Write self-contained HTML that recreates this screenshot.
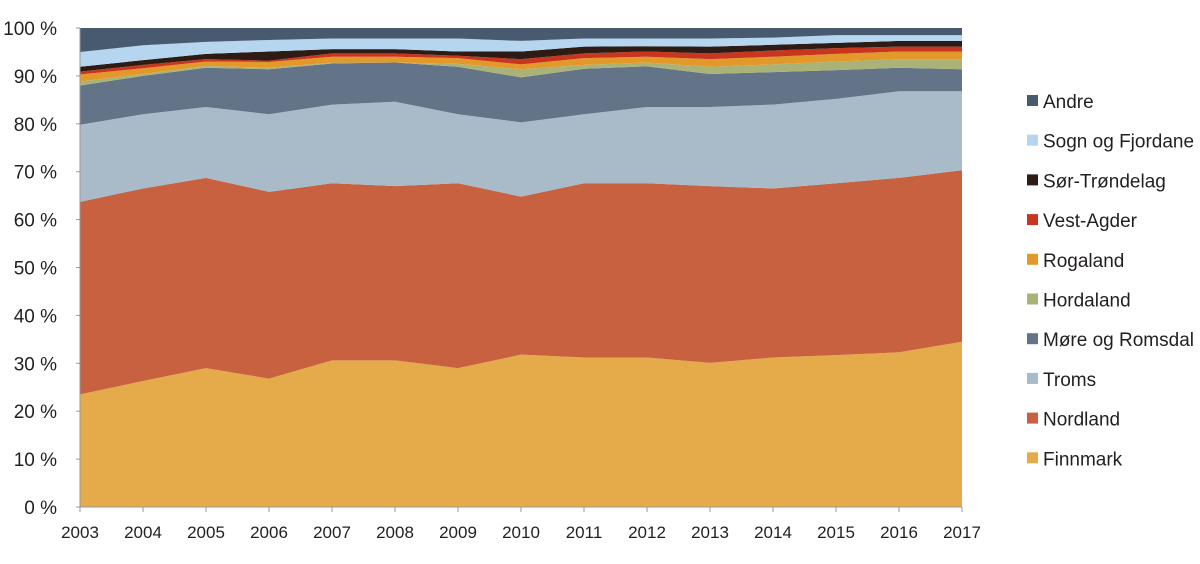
<!DOCTYPE html>
<html><head><meta charset="utf-8"><style>
body{margin:0;background:#fff;}
svg text{font-family:"Liberation Sans",sans-serif;font-size:17px;fill:#231f20;}
svg text.big{font-size:19px;}
</style></head><body>
<svg id="chart" width="1200" height="559"></svg>
<script>
const years=[2003,2004,2005,2006,2007,2008,2009,2010,2011,2012,2013,2014,2015,2016,2017];
const seriesNames=["Finnmark","Nordland","Troms","Møre og Romsdal","Hordaland","Rogaland","Vest-Agder","Sør-Trøndelag","Sogn og Fjordane","Andre"];
const finnmark=[23.5,26.3,29,26.8,30.6,30.6,29,31.8,31.2,31.2,30.1,31.2,31.7,32.3,34.5];
const nordland=[40.2,40.2,39.7,39.0,37.0,36.4,38.6,33.0,36.4,36.4,36.9,35.3,35.9,36.4,35.8];
const troms=[16.1,15.5,14.8,16.2,16.4,17.6,14.4,15.5,14.4,15.9,16.5,17.5,17.6,18.1,16.5];
const more=[8.2,8.0,8.2,9.4,8.6,8.2,9.9,9.4,9.5,8.5,6.9,6.8,6.0,4.9,4.6];
const hordaland=[0.8,0.4,0.4,0.3,0.2,0.0,0.6,1.7,0.8,0.8,1.5,1.6,1.8,1.8,2.1];
const rogaland=[1.5,1.2,0.9,1.2,1.2,1.2,1.2,1.0,1.4,1.2,1.6,1.6,1.6,1.6,1.6];
const vestAgder=[0.6,0.7,0.5,0.3,0.7,0.7,0.5,1.1,1.0,1.1,1.2,1.3,1.2,1.0,1.0];
const sorTrondelag=[1.0,1.0,1.1,1.9,0.9,0.9,0.9,1.6,1.4,1.1,1.4,1.2,1.1,1.2,1.2];
const sognFjordane=[3.1,3.1,2.5,2.4,2.2,2.2,2.7,2.2,1.7,1.6,1.7,1.5,1.6,1.2,1.2];
const andre=[5.0,3.6,2.9,2.5,2.2,2.2,2.2,2.7,2.2,2.2,2.2,2.0,1.5,1.5,1.5];
const yTicks=[0,10,20,30,40,50,60,70,80,90,100];
const colors=["#e5ab4b","#c86140","#a9bac9","#637489","#abb277","#e3992a","#c8361f","#2e1c14","#b6d5ef","#475a70"];
const series=[finnmark,nordland,troms,more,hordaland,rogaland,vestAgder,sorTrondelag,sognFjordane,andre];
const NS="http://www.w3.org/2000/svg";
const svg=document.getElementById("chart");
const X0=80,X1=962,Y0=507,Y1=28;
const xs=i=>X0+(X1-X0)*i/(years.length-1);
const ys=v=>Y0-(Y0-Y1)*v/100;
function mk(t,a){const e=document.createElementNS(NS,t);for(const k in a)e.setAttribute(k,a[k]);svg.appendChild(e);return e;}
let base=years.map(()=>0);
series.forEach((s,si)=>{
  const top=base.map((b,i)=>b+s[i]);
  let d="M"+years.map((_,i)=>xs(i)+","+ys(top[i])).join("L");
  for(let i=years.length-1;i>=0;i--)d+="L"+xs(i)+","+ys(base[i]);
  d+="Z";
  const p=mk("path",{d:d,fill:colors[si]});
  
  
  base=top;
});
const ax=mk("line",{x1:X0,y1:Y0,x2:X1,y2:Y0,stroke:"#999","stroke-width":1});


const ay=mk("line",{x1:X0,y1:Y1,x2:X0,y2:Y0,stroke:"#999","stroke-width":1});


yTicks.forEach(v=>{
  const t=mk("text",{x:57,y:ys(v)+7,"text-anchor":"end","class":"big"});
  t.textContent=v+" %";
  
  
  const tk=mk("line",{x1:X0-4,y1:ys(v),x2:X0,y2:ys(v),stroke:"#999"});
  
  
});
years.forEach((y,i)=>{
  const t=mk("text",{x:xs(i),y:538,"text-anchor":"middle"});
  t.textContent=y;
  
  
  const tk=mk("line",{x1:xs(i),y1:Y0,x2:xs(i),y2:Y0+5,stroke:"#999"});
  
  
});
for(let k=0;k<seriesNames.length;k++){
  const si=seriesNames.length-1-k;
  const cy=101+k*39.7;
  const r=mk("rect",{x:1027,y:cy-6,width:11,height:11,fill:colors[si]});
  
  
  const t=mk("text",{x:1043,y:cy+7,"class":"big"});
  t.textContent=seriesNames[si];
  
  
}
</script>
</body></html>
